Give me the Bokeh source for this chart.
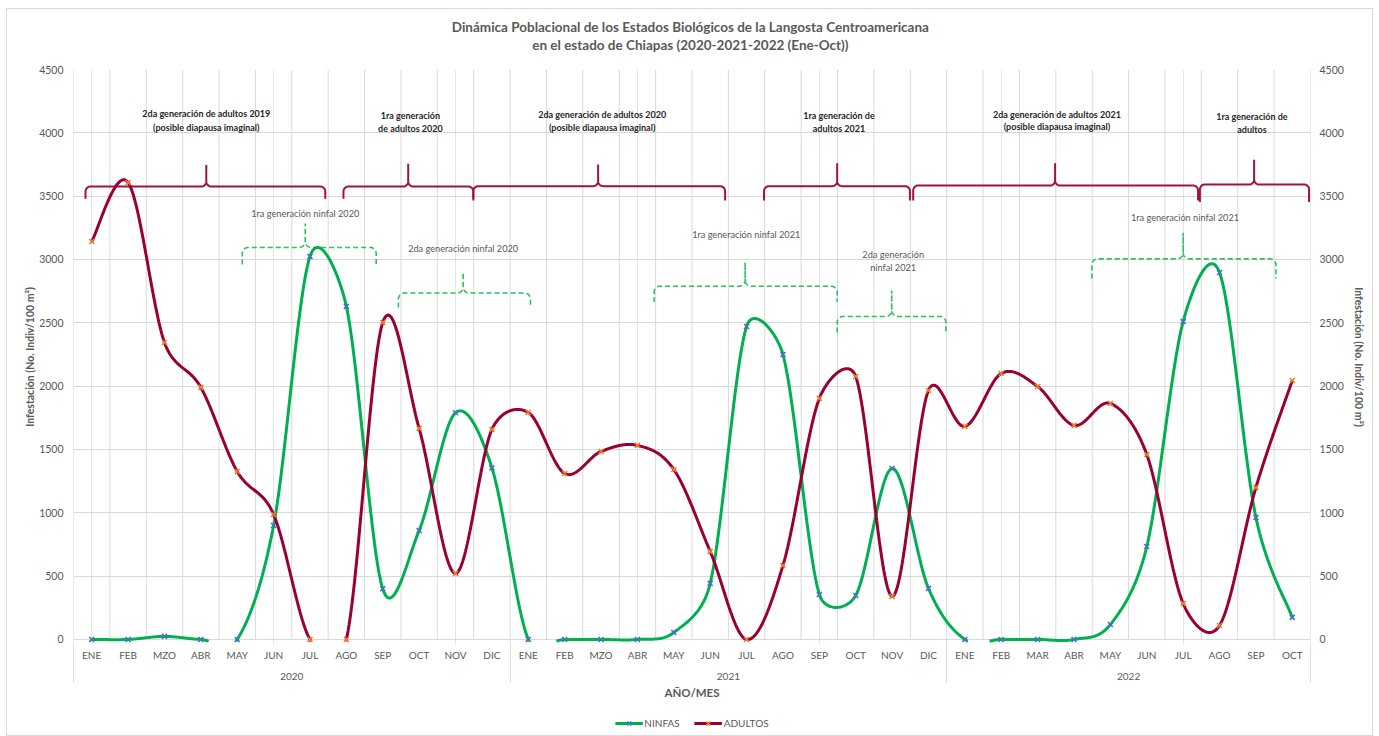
import numpy as np
from bokeh.plotting import figure
from bokeh.layouts import column
from bokeh.models import Range1d, LinearAxis, FixedTicker, Grid, Legend, LegendItem, Title
from bokeh.core.properties import value
from bokeh.embed import file_html
from bokeh.resources import INLINE

# ---------------- data ----------------
months = ["ENE", "FEB", "MZO", "ABR", "MAY", "JUN", "JUL", "AGO", "SEP", "OCT", "NOV", "DIC",
          "ENE", "FEB", "MZO", "ABR", "MAY", "JUN", "JUL", "AGO", "SEP", "OCT", "NOV", "DIC",
          "ENE", "FEB", "MAR", "ABR", "MAY", "JUN", "JUL", "AGO", "SEP", "OCT"]
years = ["2020"] * 12 + ["2021"] * 12 + ["2022"] * 10
ninfas = [0, 0, 24, 0, 0, 900, 3024, 2630, 400, 860, 1790, 1355,
          0, 0, 0, 0, 55, 442, 2471, 2250, 355, 347, 1350, 403,
          0, 0, 0, 0, 118, 734, 2510, 2897, 963, 174]
adultos = [3142, 3608, 2345, 1990, 1326, 987, 0, 0, 2503, 1666, 521, 1658,
           1792, 1310, 1484, 1532, 1342, 695, 0, 584, 1903, 2076, 340, 1966,
           1682, 2100, 1997, 1690, 1863, 1460, 284, 110, 1200, 2045]
y_ticks = list(range(0, 4501, 500))

# annotation braces: (start, end, tip, level, end_level, tip_level)
adult_braces = [
    (-0.17, 6.42, 3.15, 3576, 3480, 3745),
    (6.92, 10.49, 8.70, 3576, 3480, 3755),
    (10.49, 17.41, 13.92, 3579, 3466, 3750),
    (18.48, 22.49, 20.49, 3579, 3466, 3760),
    (22.58, 30.41, 26.48, 3584, 3466, 3760),
    (30.46, 33.46, 31.95, 3592, 3453, 3787),
]
nymph_braces = [
    (4.14, 7.82, 5.87, 3095, 2960, 3284),
    (8.43, 12.06, 10.21, 2735, 2620, 2897),
    (15.46, 20.49, 17.96, 2789, 2665, 2976),
    (20.49, 23.48, 21.99, 2550, 2424, 2755),
    (27.49, 32.55, 30.0, 3005, 2850, 3211),
]
adult_notes = [
    (3.15, 4153, "2da generación de adultos 2019"), (3.15, 4042, "(posible diapausa imaginal)"),
    (8.76, 4137, "1ra generación"), (8.76, 4034, "de adultos 2020"),
    (14.03, 4145, "2da generación de adultos 2020"), (14.03, 4042, "(posible diapausa imaginal)"),
    (20.54, 4137, "1ra generación de"), (20.54, 4034, "adultos 2021"),
    (26.53, 4145, "2da generación de adultos 2021"), (26.53, 4050, "(posible diapausa imaginal)"),
    (31.89, 4129, "1ra generación de"), (31.89, 4026, "adultos"),
]
nymph_notes = [
    (5.87, 3363, "1ra generación ninfal 2020"),
    (10.21, 3087, "2da generación ninfal 2020"),
    (17.99, 3197, "1ra generación ninfal 2021"),
    (22.03, 3040, "2da generación"), (22.03, 2937, "ninfal 2021"),
    (30.05, 3332, "1ra generación ninfal 2021"),
]
title_lines = ["Dinámica Poblacional  de los Estados Biológicos de la Langosta Centroamericana",
               "en el estado de Chiapas  (2020-2021-2022 (Ene-Oct))"]

FONT = "Lato"
GREY = "#595959"
GRID = "#D9D9D9"
C_NIN_LINE, C_NIN_MARK = "#00B050", "#4472C4"
C_ADU_LINE, C_ADU_MARK = "#990033", "#ED7D31"

n = len(months)
xs = np.arange(n, dtype=float)
YMIN, YMAX = -40, 4500
# content box starts at page (7, 9) inside a thin chart-area border
OX, OY = 7, 9
W, H, HL = 1365, 702, 24
FL, FR, FT, FB = 73 - OX, 1310 - OX, 69 - OY, 644 - OY

p = figure(width=W, height=H, output_backend="svg", toolbar_location=None,
           x_range=Range1d(-0.5, n - 0.5), y_range=Range1d(YMIN, YMAX),
           x_axis_location=None, y_axis_location=None,
           min_border_left=FL, min_border_right=W - FR, min_border_top=FT, min_border_bottom=H - FB)
p.outline_line_color = None
p.background_fill_color = "white"
p.border_fill_color = "white"

def style_title(t, standoff):
    t.align = "center"
    t.text_font = FONT
    t.text_font_size = "13.5px"
    t.text_font_style = "bold"
    t.text_color = GREY
    t.standoff = standoff

p.title.text = title_lines[0]
style_title(p.title, -33)
t2 = Title(text=title_lines[1])
style_title(t2, 33)
p.add_layout(t2, "above")

# grids
p.add_layout(Grid(dimension=1, ticker=FixedTicker(ticks=y_ticks), grid_line_color=GRID))
bounds = np.arange(n + 1) - 0.5
year_bounds = [-0.5] + [i + 0.5 for i in range(n - 1) if years[i] != years[i + 1]] + [n - 0.5]
inner = [float(b) for b in bounds if b not in year_bounds]
p.segment(x0=inner, x1=inner, y0=0, y1=YMAX, line_color=GRID, line_width=1, level="underlay")
p.segment(x0=year_bounds, x1=year_bounds, y0=YMIN, y1=YMAX, line_color=GRID, line_width=1, level="underlay")

# axes
def style_y(ax, standoff, lab_standoff):
    ax.axis_line_color = None
    ax.major_tick_line_color = None
    ax.minor_tick_line_color = None
    ax.major_tick_out = 0
    ax.major_tick_in = 0
    ax.minor_tick_out = 0
    ax.major_label_text_color = GREY
    ax.major_label_text_font = FONT
    ax.major_label_text_font_size = "10.5px"
    ax.major_label_standoff = standoff
    ax.axis_label_text_font = FONT
    ax.axis_label_text_font_size = "10.5px"
    ax.axis_label_text_font_style = "bold"
    ax.axis_label_text_color = GREY
    ax.axis_label_standoff = lab_standoff

ylab = "Infestación (No. Indiv/100 m²)"
ly = LinearAxis(ticker=FixedTicker(ticks=y_ticks), axis_label=ylab)
style_y(ly, 10, 0)
p.add_layout(ly, "left")
ry = LinearAxis(ticker=FixedTicker(ticks=y_ticks), axis_label=ylab)
style_y(ry, 9, 6)
p.add_layout(ry, "right")

SEP_LEN = 38
mx = LinearAxis(ticker=FixedTicker(ticks=list(range(n)), minor_ticks=year_bounds),
                major_label_overrides={i: m for i, m in enumerate(months)})
mx.axis_line_color = None
mx.major_tick_line_color = None
mx.major_tick_out = 0
mx.major_tick_in = 0
mx.minor_tick_in = 0
mx.minor_tick_out = SEP_LEN
mx.minor_tick_line_color = GRID
mx.major_label_text_color = GREY
mx.major_label_text_font = FONT
mx.major_label_text_font_size = "10px"
mx.major_label_standoff = 4 - SEP_LEN
p.add_layout(mx, "below")

uy = []
for y in dict.fromkeys(years):
    idx = [i for i, v in enumerate(years) if v == y]
    uy.append((y, (idx[0] + idx[-1]) / 2))
yx = LinearAxis(ticker=FixedTicker(ticks=[c for _, c in uy]),
                major_label_overrides={c: y for y, c in uy}, axis_label="AÑO/MES")
yx.axis_line_color = None
yx.major_tick_line_color = None
yx.minor_tick_line_color = None
yx.major_tick_out = 0
yx.major_label_text_color = GREY
yx.major_label_text_font = FONT
yx.major_label_text_font_size = "10px"
yx.major_label_standoff = 9
yx.axis_label_text_font = FONT
yx.axis_label_text_font_size = "11.5px"
yx.axis_label_text_font_style = "bold"
yx.axis_label_text_color = GREY
yx.axis_label_standoff = 3
p.add_layout(yx, "below")

# pixel scales of the frame (used for smoothing and brace corners)
XPX = (FR - FL) / n
YPX = (FB - FT) / (YMAX - YMIN)

# smoothed line: cubic Bezier whose handles are limited as in spreadsheet smoothing
def smooth(x, y, m=40, clip=-14):
    P = np.column_stack([np.asarray(x, float) * XPX, np.asarray(y, float) * YPX])
    N = len(P)
    out = []
    for i in range(N - 1):
        p0 = P[i - 1] if i > 0 else P[i]
        p1, p2 = P[i], P[i + 1]
        p3 = P[i + 2] if i + 2 < N else P[i + 1]
        d12 = np.linalg.norm(p2 - p1)
        d02 = np.linalg.norm(p2 - p0)
        d13 = np.linalg.norm(p3 - p1)
        f1 = min(1 / 6, d12 / (2 * d02)) if d02 > 0 else 0
        f2 = min(1 / 6, d12 / (2 * d13)) if d13 > 0 else 0
        c1 = p1 + (p2 - p0) * f1
        c2 = p2 - (p3 - p1) * f2
        t = np.linspace(0, 1, m, endpoint=(i == N - 2))[:, None]
        out.append((1 - t) ** 3 * p1 + 3 * (1 - t) ** 2 * t * c1 + 3 * (1 - t) * t ** 2 * c2 + t ** 3 * p2)
    pts = np.vstack(out)
    pts[:, 0] /= XPX
    pts[:, 1] /= YPX
    cx, cy = [], []
    for k in range(len(pts)):
        xk, yk = pts[k]
        if k > 0:
            xp, yp = pts[k - 1]
            if (yp < clip) != (yk < clip):
                tt = (yp - clip) / (yp - yk)
                cx.append(float(xp + tt * (xk - xp)))
                cy.append(float(clip))
        cx.append(float(xk))
        cy.append(float("nan") if yk < clip else float(yk))
    return cx, cy

def brace(x0, x1, xm, yl, ye, yt, r=5.0, k=10):
    rx, ry = r / XPX, r / YPX
    def arc(cx, cy, a0, a1):
        t = np.linspace(a0, a1, k)
        return list(cx + rx * np.cos(t)), list(cy + ry * np.sin(t))
    X, Y = [x0], [ye]
    for (cx, cy, a0, a1) in [(x0 + rx, yl - ry, np.pi, np.pi / 2),
                             (xm - rx, yl + ry, -np.pi / 2, 0)]:
        a, b = arc(cx, cy, a0, a1)
        X += a; Y += b
    X += [xm, xm]; Y += [yt, yl + ry]
    for (cx, cy, a0, a1) in [(xm + rx, yl + ry, np.pi, 1.5 * np.pi),
                             (x1 - rx, yl - ry, np.pi / 2, 0)]:
        a, b = arc(cx, cy, a0, a1)
        X += a; Y += b
    X.append(x1); Y.append(ye)
    return [float(v) for v in X], [float(v) for v in Y]

ab = [brace(*b) for b in adult_braces]
p.multi_line(xs=[a for a, _ in ab], ys=[b for _, b in ab], line_color="#A3123E", line_width=2)
nb = [brace(*b, r=6.0) for b in nymph_braces]
p.multi_line(xs=[a for a, _ in nb], ys=[b for _, b in nb], line_color="#2EC15A", line_width=1.6,
             line_dash="5 3")

p.text(x=[a for a, _, _ in adult_notes], y=[b for _, b, _ in adult_notes],
       text=[c for _, _, c in adult_notes], text_font=value(FONT), text_font_size="9px",
       text_font_style="bold", text_color="#262626", text_align="center", text_baseline="middle")
p.text(x=[a for a, _, _ in nymph_notes], y=[b for _, b, _ in nymph_notes],
       text=[c for _, _, c in nymph_notes], text_font=value(FONT), text_font_size="9.2px",
       text_color=GREY, text_align="center", text_baseline="middle")

# series
gx, gy = smooth(xs, ninfas)
p.line(gx, gy, line_color=C_NIN_LINE, line_width=3)
p.scatter(xs, ninfas, marker="x", size=7, line_color=C_NIN_MARK, line_width=1.6)
rx_, ry_ = smooth(xs, adultos)
p.line(rx_, ry_, line_color=C_ADU_LINE, line_width=3)
p.scatter(xs, adultos, marker="x", size=7, line_color=C_ADU_MARK, line_width=1.6)

# legend strip below the chart (its glyph renderers lie outside the visible range)
lf = figure(width=W, height=HL, output_backend="svg", toolbar_location=None,
            x_range=Range1d(0, 1), y_range=Range1d(0, 1),
            x_axis_location=None, y_axis_location=None,
            min_border_left=0, min_border_right=0, min_border_top=0, min_border_bottom=0)
lf.outline_line_color = None
lf.background_fill_color = "white"
lf.border_fill_color = "white"
lf.xgrid.visible = False
lf.ygrid.visible = False
k1 = lf.line([5, 6], [5, 6], line_color=C_NIN_LINE, line_width=3)
m1 = lf.scatter([5], [5], marker="x", size=7, line_color=C_NIN_MARK, line_width=1.6)
k2 = lf.line([5, 6], [5, 6], line_color=C_ADU_LINE, line_width=3)
m2 = lf.scatter([5], [5], marker="x", size=7, line_color=C_ADU_MARK, line_width=1.6)
legend = Legend(items=[LegendItem(label="NINFAS", renderers=[k1, m1]),
                       LegendItem(label="ADULTOS", renderers=[k2, m2])],
                orientation="horizontal", location="center")
legend.border_line_color = None
legend.background_fill_alpha = 0
legend.label_text_font = FONT
legend.label_text_font_size = "10px"
legend.label_text_color = GREY
legend.glyph_width = 28
legend.glyph_height = 14
legend.label_standoff = 2
legend.spacing = 14
legend.padding = 2
legend.margin = 0
lf.add_layout(legend, "center")

layout = column(p, lf, margin=(OY - 1, 0, 0, OX - 1), styles={"border": "1px solid #D9D9D9"})
open("out.html", "w").write(file_html(layout, INLINE))
